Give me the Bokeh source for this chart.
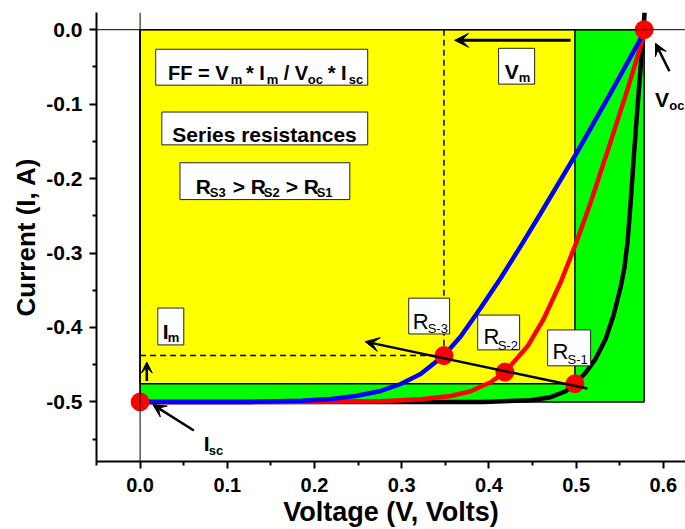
from bokeh.plotting import figure
from bokeh.models import ColumnDataSource, Span, Arrow, VeeHead, FixedTicker, PrintfTickFormatter
from bokeh.core.properties import value
from bokeh.embed import file_html
from bokeh.resources import INLINE

# ---- data ----
v_rs1 = [0.0, 0.2, 0.3939, 0.4478, 0.4707, 0.4879, 0.4986, 0.5108, 0.5223, 0.5338, 0.543, 0.551,
         0.5555, 0.559, 0.5624, 0.5659, 0.5705, 0.5739, 0.5762, 0.5785]
i_rs1 = [-0.5, -0.5, -0.5, -0.4976, -0.4936, -0.4856, -0.4755, -0.4608, -0.4421, -0.4154, -0.3833, -0.3459,
         -0.3191, -0.2844, -0.2336, -0.1748, -0.1012, -0.0517, -0.0143, 0.0231]

v_rs2 = [0.0, 0.1269, 0.2186, 0.2759, 0.3217, 0.3561, 0.379, 0.4019, 0.4183, 0.4444, 0.4627, 0.4822,
         0.4994, 0.5166, 0.5395, 0.559, 0.5796]
i_rs2 = [-0.5, -0.5, -0.4996, -0.4991, -0.4964, -0.492, -0.4856, -0.4735, -0.4599, -0.425, -0.3886, -0.3392,
         -0.2884, -0.2322, -0.1507, -0.0798, 0.0]

v_rs3 = [0.0, 0.1269, 0.1842, 0.2186, 0.2472, 0.2759, 0.2988, 0.3217, 0.3484, 0.3676, 0.3905, 0.4134,
         0.4363, 0.4592, 0.4994, 0.5395, 0.5796]
i_rs3 = [-0.5, -0.5, -0.4983, -0.496, -0.492, -0.4853, -0.4759, -0.4626, -0.4377, -0.412, -0.3739, -0.3338,
         -0.291, -0.2469, -0.168, -0.0852, 0.0]

voc = 0.578
isc = -0.5
vm_pts = [0.0, 0.578, 0.3484, 0.4183, 0.4986]
im_pts = [-0.5, 0.0, -0.4377, -0.4599, -0.4755]

x_ticks = [0.0, 0.1, 0.2, 0.3, 0.4, 0.5, 0.6]
x_minor = [-0.05, 0.05, 0.15, 0.25, 0.35, 0.45, 0.55]
y_ticks = [-0.5, -0.4, -0.3, -0.2, -0.1, 0.0]
y_minor = [-0.55, -0.45, -0.35, -0.25, -0.15, -0.05]

BOLD = "Liberation Sans"

p = figure(width=685, height=529, x_range=(-0.05, 0.6254), y_range=(-0.58, 0.0231),
           output_backend="svg", toolbar_location=None,
           min_border_left=96, min_border_right=0, min_border_top=12, min_border_bottom=66)
p.outline_line_color = None
p.grid.visible = False

for ax, t, m in ((p.xaxis, x_ticks, x_minor), (p.yaxis, y_ticks, y_minor)):
    ax.ticker = FixedTicker(ticks=t, minor_ticks=m)
    ax.formatter = PrintfTickFormatter(format="%.1f")
    ax.major_tick_in = 0
    ax.major_tick_out = 7
    ax.minor_tick_in = 0
    ax.minor_tick_out = 4
    ax.axis_line_width = 2
    ax.major_tick_line_width = 2
    ax.minor_tick_line_width = 2
    ax.major_label_text_font = BOLD
    ax.major_label_text_font_style = "bold"
    ax.major_label_text_color = "black"
    ax.axis_label_text_font = BOLD
    ax.axis_label_text_font_style = "bold"
    ax.axis_label_text_color = "black"

p.xaxis.axis_label = "Voltage (V, Volts)"
p.yaxis.axis_label = "Current (I, A)"
p.xaxis.axis_label_text_font_size = "27px"
p.yaxis.axis_label_text_font_size = "26px"
p.xaxis.major_label_text_font_size = "20px"
p.yaxis.major_label_text_font_size = "21px"
p.xaxis.major_label_standoff = 9
p.yaxis.major_label_standoff = 7
p.xaxis.axis_label_standoff = 2
p.yaxis.axis_label_standoff = 2

# power rectangles
p.quad(left=[0], right=[voc], bottom=[isc], top=[0], fill_color="#00FF00", line_color="black", line_width=1.5)
p.quad(left=[0], right=[vm_pts[4]], bottom=[im_pts[4]], top=[0], fill_color="#FFFF00", line_color="black", line_width=1.5)

# zero lines
p.add_layout(Span(location=0, dimension="width", line_color="black", line_width=1))
p.add_layout(Span(location=0, dimension="height", line_color="black", line_width=1))

# dashed guides at the RS-3 maximum power point
p.line([vm_pts[2], vm_pts[2]], [0, im_pts[2]], line_color="black", line_width=1.5, line_dash="6 4")
p.line([0, vm_pts[2]], [im_pts[2], im_pts[2]], line_color="black", line_width=1.5, line_dash="6 4")

# I-V curves
p.line(v_rs1, i_rs1, line_color="black", line_width=4.5, line_join="round")
p.line(v_rs2, i_rs2, line_color="red", line_width=4.5, line_join="round")
p.line(v_rs3, i_rs3, line_color="blue", line_width=4.5, line_join="round")

# arrows
def arrow(x0, y0, x1, y1, w=2.5, s=13):
    p.add_layout(Arrow(end=VeeHead(size=s, fill_color="black", line_color="black"),
                       x_start=x0, y_start=y0, x_end=x1, y_end=y1,
                       line_color="black", line_width=w))

arrow(0.513, -0.482, 0.258, -0.419, 2.5, 14)
arrow(0.4937, -0.0143, 0.3607, -0.0143, 3, 14)
arrow(0.0077, -0.472, 0.0077, -0.4465, 2.5, 11)
arrow(0.0616, -0.5384, 0.0146, -0.5036, 2.5, 13)
arrow(0.607, -0.0558, 0.591, -0.0183, 2.5, 12)

# red points
p.scatter(vm_pts, im_pts, size=18, fill_color="red", line_color="red")

# text boxes
boxes = dict(left=[0.0179, 0.0249, 0.0457, 0.4111, 0.0203, 0.308, 0.3871, 0.4673],
             right=[0.2610, 0.2610, 0.2405, 0.4524, 0.0501, 0.3549, 0.4352, 0.5166],
             top=[-0.0263, -0.1106, -0.1787, -0.0250, -0.3739, -0.3606, -0.3833, -0.4033],
             bottom=[-0.0745, -0.1547, -0.2282, -0.0731, -0.4234, -0.4087, -0.4301, -0.4515])
p.quad(source=ColumnDataSource(boxes), left="left", right="right", top="top", bottom="bottom",
       fill_color="white", line_color="#222222", line_width=1)

def texts(xs, ys, ts, size, bold=True, align="left"):
    p.text(x=xs, y=ys, text=ts, text_font=value(BOLD), text_font_size=size,
           text_font_style="bold" if bold else "normal", text_color="black",
           text_align=align, text_baseline="alphabetic")

# FF formula
texts([0.0321, 0.1214, 0.1647, 0.2151], [-0.0588] * 4, ["FF = V", "* I", "/ V", "* I"], "20px")
texts([0.1040, 0.1452, 0.1922, 0.2392], [-0.0668] * 4, ["m", "m", "oc", "sc"], "13px")
# Series resistances
texts([0.1427], [-0.1413], ["Series resistances"], "21px", align="center")
# RS3 > RS2 > RS1
texts([0.0638, 0.1062, 0.1670], [-0.2104] * 3, ["R", "> R", "> R"], "21px")
texts([0.0799, 0.1418, 0.2025], [-0.2189] * 3, ["S3", "S2", "S1"], "13px")
# Vm, Im, Voc, Isc
texts([0.418, 0.026, 0.5905, 0.073], [-0.0557, -0.4060, -0.0933, -0.5557], ["V", "I", "V", "I"], "21px")
texts([0.4341, 0.0317, 0.6068, 0.0787], [-0.0638, -0.4140, -0.1013, -0.5651], ["m", "m", "oc", "sc"], "13px")
# RS labels
texts([0.3126, 0.3939, 0.473], [-0.3913, -0.4127, -0.4327], ["R", "R", "R"], "22px", bold=False)
texts([0.3297, 0.41, 0.4902], [-0.402, -0.4247, -0.4434], ["S-3", "S-2", "S-1"], "13px", bold=False)

open("out.html", "w").write(file_html(p, INLINE))
